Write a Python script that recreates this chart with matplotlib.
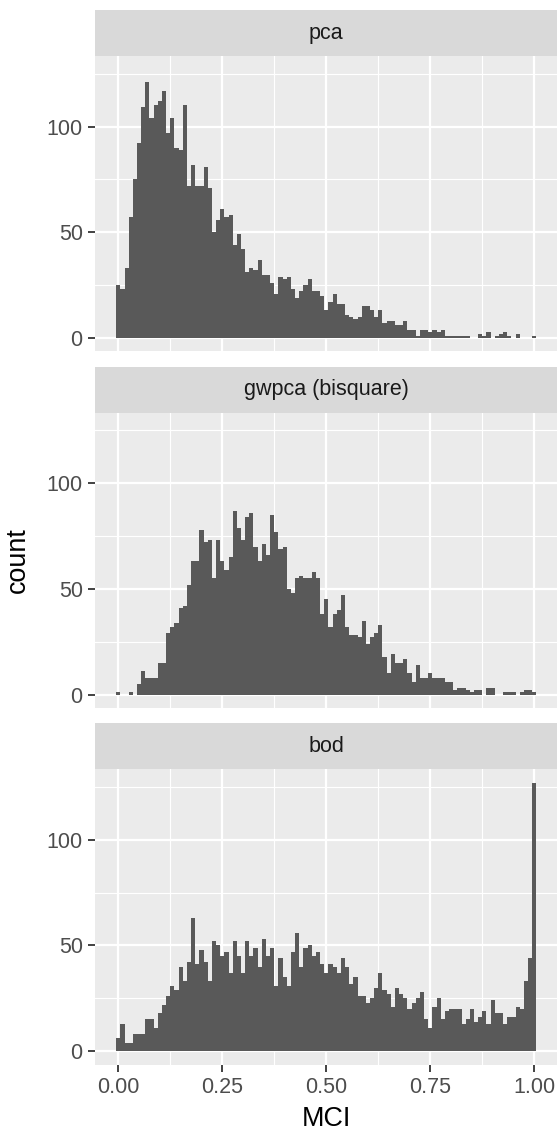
import numpy as np
import matplotlib
matplotlib.use("Agg")
from matplotlib import pyplot as plt
from matplotlib.ticker import MultipleLocator

plt.rcParams['font.family'] = ['Liberation Sans', 'DejaVu Sans']

# histogram counts, bins of width 0.01 centred on 0.00 ... 1.00
bin_width = 0.01
panel_names = ['pca', 'gwpca (bisquare)', 'bod']

pca = [25, 23, 33, 57, 75, 92, 109, 121, 104, 110, 112, 117, 97, 104, 90, 89, 110, 72, 82, 72, 72, 81, 71, 50, 56,
       61, 57, 58, 44, 49, 42, 31, 33, 32, 37, 30, 30, 26, 21, 29, 28, 29, 23, 19, 22, 25, 28, 22, 22, 20,
       13, 17, 21, 16, 16, 11, 10, 9, 10, 15, 15, 13, 10, 13, 7, 8, 8, 6, 6, 8, 4, 4, 1, 4, 4,
       3, 4, 3, 4, 1, 1, 1, 1, 1, 1, 0, 0, 2, 1, 3, 0, 1, 2, 3, 1, 0, 2, 0, 0, 0, 1]

gwpca = [1, 0, 0, 1, 0, 5, 11, 8, 8, 8,
         15, 15, 29, 32, 34, 41, 42, 52, 63, 63,
         78, 72, 73, 55, 73, 63, 59, 65, 87, 79,
         73, 84, 86, 70, 63, 71, 66, 85, 77, 69,
         70, 50, 48, 55, 56, 55, 55, 58, 55, 38,
         45, 32, 38, 40, 47, 32, 28, 28, 27, 35,
         24, 27, 29, 33, 18, 10, 19, 15, 15, 17,
         10, 6, 14, 8, 8, 10, 8, 8, 8, 6,
         6, 2, 3, 3, 2, 1, 2, 2, 0, 3,
         3, 0, 0, 1, 1, 1, 0, 1, 2, 2, 1]

bod = [6, 13, 4, 4, 8, 8, 8, 15, 15, 11,
       18, 22, 26, 31, 29, 40, 33, 42, 63, 41,
       48, 42, 33, 52, 50, 45, 47, 37, 52, 45,
       37, 52, 45, 49, 40, 53, 45, 49, 31, 44,
       35, 31, 47, 56, 40, 49, 50, 45, 47, 41,
       37, 41, 40, 37, 44, 40, 32, 35, 26, 26,
       23, 25, 30, 37, 29, 27, 21, 30, 27, 25,
       20, 23, 25, 28, 15, 11, 21, 25, 15, 19,
       20, 20, 20, 13, 15, 20, 14, 16, 19, 13,
       24, 18, 18, 13, 16, 16, 21, 20, 33, 44, 127]

x_ticks = [0.0, 0.25, 0.5, 0.75, 1.0]
x_labels = ['0.00', '0.25', '0.50', '0.75', '1.00']
y_ticks = [0, 50, 100]

W, H = 558, 1133
fig = plt.figure(figsize=(W / 100, H / 100), dpi=100)

# panel geometry in pixels
left, right = 95.2, 557.4
strip_top, strip_h, panel_h, step = 10, 46, 295.4, 356.6

all_counts = [pca, gwpca, bod]
ymax = max(max(c) for c in all_counts)
ylim = (-0.05 * ymax, 1.05 * ymax)
n = len(pca)
centers = np.arange(n) * bin_width
xlo, xhi = centers[0] - bin_width / 2, centers[-1] + bin_width / 2
xpad = 0.05 * (xhi - xlo)

for i, (name, counts) in enumerate(zip(panel_names, all_counts)):
    top = strip_top + step * i
    # strip
    sax = fig.add_axes([left / W, 1 - (top + strip_h) / H, (right - left) / W, strip_h / H])
    sax.set_facecolor('#D9D9D9')
    sax.set_xticks([])
    sax.set_yticks([])
    for sp in sax.spines.values():
        sp.set_visible(False)
    sax.text(0.5, 0.5, name, ha='center', va='center', fontsize=15.5, color='#1A1A1A',
             transform=sax.transAxes)

    # panel
    ptop = top + strip_h
    ax = fig.add_axes([left / W, 1 - (ptop + panel_h) / H, (right - left) / W, panel_h / H])
    ax.set_facecolor('#EBEBEB')
    ax.bar(centers, counts, width=bin_width, color='#595959', linewidth=0, zorder=3)
    ax.set_xlim(xlo - xpad, xhi + xpad)
    ax.set_ylim(*ylim)
    ax.set_xticks(x_ticks)
    ax.xaxis.set_minor_locator(MultipleLocator(0.125))
    ax.set_yticks(y_ticks)
    ax.yaxis.set_minor_locator(MultipleLocator(25))
    ax.grid(True, which='major', color='white', linewidth=1.6, zorder=1)
    ax.grid(True, which='minor', color='white', linewidth=0.8, zorder=1)
    ax.set_axisbelow(True)
    for sp in ax.spines.values():
        sp.set_visible(False)
    ax.tick_params(axis='y', which='major', length=5, width=1.3, color='#333333',
                   labelsize=15.5, labelcolor='#4D4D4D', pad=4)
    ax.tick_params(which='minor', length=0)
    if i == len(panel_names) - 1:
        ax.set_xticklabels(x_labels)
        ax.tick_params(axis='x', which='major', length=5, width=1.3, color='#333333',
                       labelsize=15.5, labelcolor='#4D4D4D', pad=4)
        ax.set_xlabel('MCI', fontsize=19.4, color='black', labelpad=6)
    else:
        ax.tick_params(axis='x', which='major', length=0, labelbottom=False)

# y title centred over the panels (strip of the first facet excluded)
fig.text(18 / W, 1 - 560 / H, 'count', rotation=90, ha='center', va='center',
         fontsize=19.4, color='black')

plt.savefig('out.png', dpi=100, facecolor='white')
